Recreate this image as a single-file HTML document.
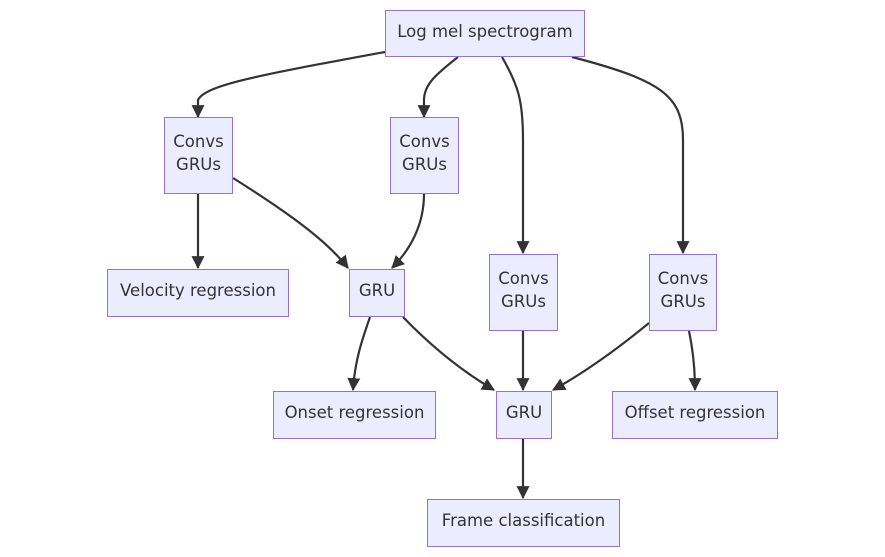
<!DOCTYPE html>
<html><head><style>
body{margin:0;background:#fff;width:885px;height:557px;overflow:hidden}
.n{position:absolute;box-sizing:border-box;background:#ECECFF;border:1px solid #9370DB;display:flex;align-items:center;justify-content:center;text-align:center;font-family:"DejaVu Sans","Liberation Sans",sans-serif;font-size:16.5px;color:#333;line-height:23px;padding-bottom:5px}
svg{position:absolute;left:0;top:0}
</style></head><body>
<svg width="885" height="557">
<defs><marker id="a" viewBox="0 0 12 12" refX="11" refY="6" markerWidth="13" markerHeight="13" orient="auto" markerUnits="userSpaceOnUse"><path d="M0,0 L12,6 L0,12 z" fill="#333"/></marker></defs>
<g fill="none" stroke="#333" stroke-width="2.2" marker-end="url(#a)">
<path d="M385,52 C260,75 205,85 198,100 L198,117"/>
<path d="M458,57 C435,75 424,85 424,100 L424,117"/>
<path d="M502,57 C518,85 523,100 523,140 L523,253"/>
<path d="M572,57 C660,80 683,95 683,140 L683,253"/>
<path d="M198,194 L198,268"/>
<path d="M233,178 C300,220 330,245 348,268"/>
<path d="M424,194 C424,225 410,250 392,268"/>
<path d="M370,317 C362,340 355,360 353,390"/>
<path d="M403,317 C430,345 460,370 494,390"/>
<path d="M523,331 L523,390"/>
<path d="M649,323 C610,355 580,375 553,390"/>
<path d="M689,331 C693,350 695,370 695,390"/>
<path d="M523,439 L523,498"/>
</g>
</svg>
<div class="n" style="left:385px;top:10px;width:200px;height:47px">Log mel spectrogram</div>
<div class="n" style="left:164px;top:117px;width:69px;height:77px">Convs<br>GRUs</div>
<div class="n" style="left:390px;top:117px;width:69px;height:77px">Convs<br>GRUs</div>
<div class="n" style="left:107px;top:269px;width:182px;height:48px">Velocity regression</div>
<div class="n" style="left:349px;top:269px;width:56px;height:48px">GRU</div>
<div class="n" style="left:489px;top:254px;width:69px;height:77px">Convs<br>GRUs</div>
<div class="n" style="left:649px;top:254px;width:68px;height:77px">Convs<br>GRUs</div>
<div class="n" style="left:273px;top:391px;width:163px;height:48px">Onset regression</div>
<div class="n" style="left:496px;top:391px;width:56px;height:48px">GRU</div>
<div class="n" style="left:612px;top:391px;width:166px;height:48px">Offset regression</div>
<div class="n" style="left:427px;top:499px;width:193px;height:48px">Frame classification</div>
</body></html>
